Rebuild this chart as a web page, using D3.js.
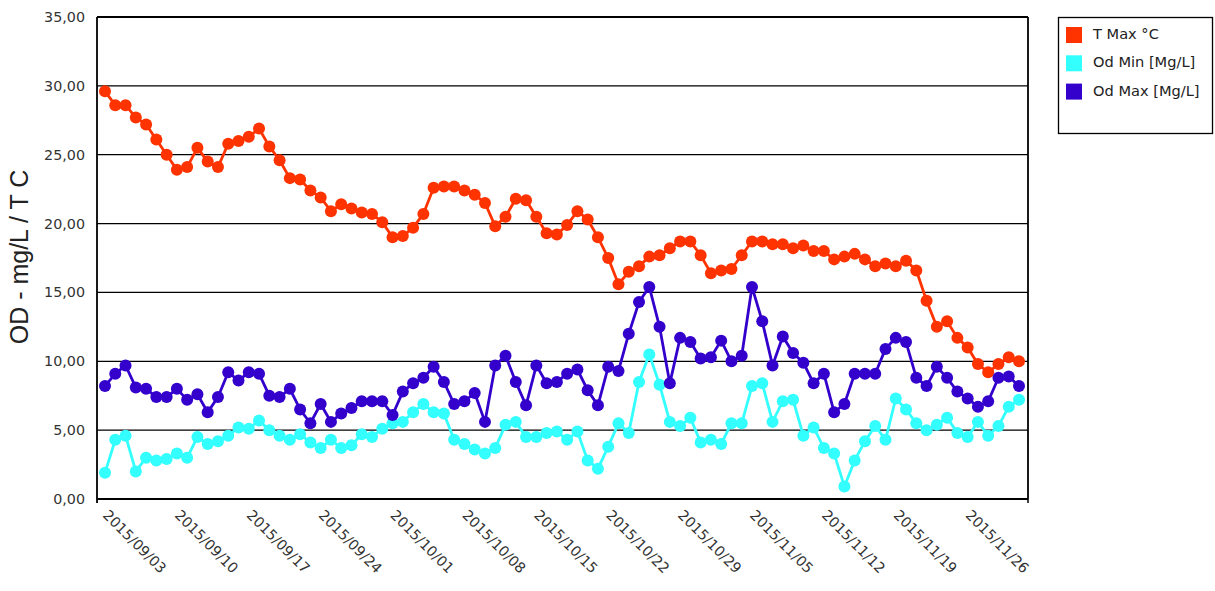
<!DOCTYPE html>
<html><head><meta charset="utf-8">
<script src="https://cdn.jsdelivr.net/npm/d3@7"></script>
<style>body{margin:0;background:#fff}svg{display:block}</style>
</head><body>
<svg id="c" width="1215" height="591"></svg>
<script>
const startDate = "2015-09-03";
const tickLabels = ["2015/09/03","2015/09/10","2015/09/17","2015/09/24","2015/10/01","2015/10/08","2015/10/15","2015/10/22","2015/10/29","2015/11/05","2015/11/12","2015/11/19","2015/11/26"];
const yTicks = [0,5,10,15,20,25,30,35];
const seriesNames = ["T Max °C","Od Min [Mg/L]","Od Max [Mg/L]"];
const seriesColors = ["#ff3300","#33ffff","#3300cc"];
const tMax = [29.6,28.6,28.6,27.7,27.2,26.1,25.0,23.9,24.1,25.5,
  24.5,24.1,25.8,26.0,26.3,26.9,25.6,24.6,23.3,23.2,
  22.4,21.9,20.9,21.4,21.1,20.8,20.7,20.1,19.0,19.1,
  19.7,20.7,22.6,22.7,22.7,22.4,22.1,21.5,19.8,20.5,
  21.8,21.7,20.5,19.3,19.2,19.9,20.9,20.3,19.0,17.5,
  15.6,16.5,16.9,17.6,17.7,18.2,18.7,18.7,17.7,16.4,
  16.6,16.7,17.7,18.7,18.7,18.5,18.5,18.2,18.4,18.0,
  18.0,17.4,17.6,17.8,17.4,16.9,17.1,16.9,17.3,16.6,
  14.4,12.5,12.9,11.7,11.0,9.8,9.2,9.8,10.3,10.0];
const odMin = [1.9,4.3,4.6,2.0,3.0,2.8,2.9,3.3,3.0,4.5,
  4.0,4.2,4.6,5.2,5.1,5.7,5.0,4.6,4.3,4.7,
  4.1,3.7,4.3,3.7,3.9,4.7,4.5,5.1,5.5,5.6,
  6.3,6.9,6.3,6.2,4.3,4.0,3.6,3.3,3.7,5.4,
  5.6,4.5,4.5,4.8,4.9,4.3,4.9,2.8,2.2,3.8,
  5.5,4.8,8.5,10.5,8.3,5.6,5.3,5.9,4.1,4.3,
  4.0,5.5,5.5,8.2,8.4,5.6,7.1,7.2,4.6,5.2,
  3.7,3.3,0.9,2.8,4.2,5.3,4.3,7.3,6.5,5.5,
  5.0,5.4,5.9,4.8,4.5,5.6,4.6,5.3,6.7,7.2];
const odMax = [8.2,9.1,9.7,8.1,8.0,7.4,7.4,8.0,7.2,7.6,
  6.3,7.4,9.2,8.6,9.2,9.1,7.5,7.4,8.0,6.5,
  5.5,6.9,5.6,6.2,6.6,7.1,7.1,7.1,6.1,7.8,
  8.4,8.8,9.6,8.5,6.9,7.1,7.7,5.6,9.7,10.4,
  8.5,6.8,9.7,8.4,8.5,9.1,9.4,7.9,6.8,9.6,
  9.3,12.0,14.3,15.4,12.5,8.4,11.7,11.4,10.2,10.3,
  11.5,10.0,10.4,15.4,12.9,9.7,11.8,10.6,9.9,8.4,
  9.1,6.3,6.9,9.1,9.1,9.1,10.9,11.7,11.4,8.8,
  8.2,9.6,8.8,7.8,7.3,6.7,7.1,8.8,8.9,8.2];

const parse = d3.timeParse("%Y-%m-%d");
const d0 = parse(startDate);
const dates = d3.range(tMax.length).map(i => d3.timeDay.offset(d0, i));

const svg = d3.select("#c");
const L = 97, R = 1028, T = 17, B = 499;
const x = d3.scaleTime().domain([dates[0], dates[dates.length-1]]).range([L+8, R-9]);
const y = d3.scaleLinear().domain([0,35]).range([B,T]);

// gridlines
svg.append("g").selectAll("line").data(yTicks.filter(v=>v>0 && v<35)).join("line")
  .attr("x1",L).attr("x2",R).attr("y1",d=>y(d)).attr("y2",d=>y(d))
  .attr("stroke","#000").attr("stroke-width",1.3);

// frame
svg.append("line").attr("x1",L).attr("x2",R).attr("y1",T).attr("y2",T).attr("stroke","#000").attr("stroke-width",2.2);
svg.append("line").attr("x1",R).attr("x2",R).attr("y1",T).attr("y2",B).attr("stroke","#000").attr("stroke-width",1.8);
svg.append("line").attr("x1",L).attr("x2",R).attr("y1",B).attr("y2",B).attr("stroke","#000").attr("stroke-width",1.8);
svg.append("line").attr("x1",L).attr("x2",L).attr("y1",T).attr("y2",B+4).attr("stroke","#000").attr("stroke-width",1.8);
svg.append("line").attr("x1",R).attr("x2",R).attr("y1",B).attr("y2",B+4).attr("stroke","#000").attr("stroke-width",1.5);

// y tick labels
svg.append("g").selectAll("text").data(yTicks).join("text")
  .attr("x",L-12).attr("y",d=>y(d)+5)
  .attr("text-anchor","end").attr("font-family","DejaVu Sans, Verdana, sans-serif")
  .attr("font-size",14.3).attr("fill","#333")
  .text(d=>d3.format(".2f")(d).replace(".",","));

// x tick labels
const tickDates = tickLabels.map(s => d3.timeParse("%Y/%m/%d")(s));
svg.append("g").selectAll("text").data(tickDates).join("text")
  .attr("transform",d=>`translate(${x(d)-3},${B+17}) rotate(45)`)
  .attr("font-family","DejaVu Sans, Verdana, sans-serif")
  .attr("font-size",14.3).attr("fill","#333")
  .text((d,i)=>tickLabels[i]);

// y axis title
svg.append("text").attr("transform",`translate(28,${(T+B)/2 - 1}) rotate(-90)`)
  .attr("text-anchor","middle").attr("font-family","Liberation Sans, Arial, sans-serif")
  .attr("font-size",25).attr("fill","#222").text("OD - mg/L / T C");

// series
const series = [tMax, odMin, odMax];
const line = d3.line().x((d,i)=>x(dates[i])).y(d=>y(d));
series.forEach((s,k)=>{
  const g = svg.append("g");
  g.append("path").datum(s).attr("d",line).attr("fill","none")
    .attr("stroke",seriesColors[k]).attr("stroke-width",2.8);
  g.selectAll("circle").data(s).join("circle")
    .attr("cx",(d,i)=>x(dates[i])).attr("cy",d=>y(d)).attr("r",6)
    .attr("fill",seriesColors[k]);
});

// legend
const lg = svg.append("g");
lg.append("rect").attr("x",1058.5).attr("y",17.5).attr("width",154).attr("height",116)
  .attr("fill","#fff").attr("stroke","#000").attr("stroke-width",1.3);
seriesNames.forEach((n,k)=>{
  lg.append("rect").attr("x",1066).attr("y",27+k*28.3).attr("width",16).attr("height",16).attr("fill",seriesColors[k]);
  lg.append("text").attr("x",1093).attr("y",39+k*28.3).attr("font-family","DejaVu Sans, Verdana, sans-serif")
    .attr("font-size",14.6).attr("fill","#222").text(n);
});
</script>
</body></html>
